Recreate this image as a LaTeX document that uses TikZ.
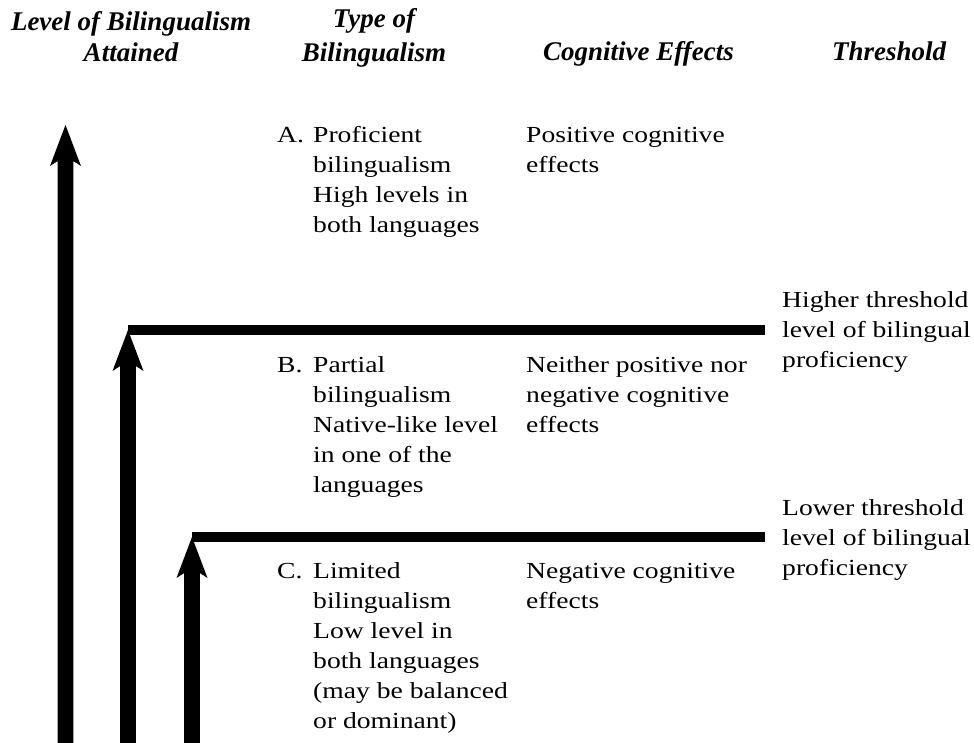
\documentclass[tikz,border=0pt]{standalone}
\usepackage{fontspec}
\setmainfont{Liberation Serif}
\newfontfamily\bodyfont[FakeStretch=1.2]{Liberation Serif}
\usetikzlibrary{calc}
\newcommand\fatarrow[2]{%
  \fill ($(#1)+(-7.8,0)$) -- ($(#2)+(-7.8,36)$) -- ($(#2)+(-15.5,41)$) -- (#2)
     -- ($(#2)+(15.5,41)$) -- ($(#2)+(7.8,36)$) -- ($(#1)+(7.8,0)$) -- cycle;}
\begin{document}
\begin{tikzpicture}[x=1pt,y=-1pt,
  head/.style={font=\fontsize{27}{31}\selectfont\bfseries\itshape, inner sep=0pt, align=center},
  body/.style={font=\bodyfont\fontsize{23}{30}\selectfont, inner sep=0pt, align=left, anchor=base west},
  hbar/.style={line width=10pt}]
\useasboundingbox (0,0) rectangle (974,743);
\clip (0,0) rectangle (974,743);

% headers (anchor = baseline of the last line)
\node[head, anchor=base] (hlevel) at (131,62) {Level of Bilingualism\\Attained};
\node[head, anchor=base] (htype) at (374,62) {Type of\\[3pt]Bilingualism};
\node[head, anchor=base west] (hcog) at (543,61) {Cognitive Effects};
\node[head, anchor=base west] (hthr) at (832,61) {Threshold};

% type of bilingualism (first lines at 143, 372, 578; anchors at last line)
\node[body] (la) at (277,143) {A.};
\node[body] (ta) at (313,233) {Proficient\\bilingualism\\High levels in\\both languages};
\node[body] (lb) at (277,372) {B.};
\node[body] (tb) at (313,492) {Partial\\bilingualism\\Native-like level\\in one of the\\languages};
\node[body] (lc) at (277,578) {C.};
\node[body] (tc) at (313,728) {Limited\\bilingualism\\Low level in\\both languages\\(may be balanced\\or dominant)};

% cognitive effects
\node[body] (ca) at (526,173) {Positive cognitive\\effects};
\node[body] (cb) at (526,432) {Neither positive nor\\negative cognitive\\effects};
\node[body] (cc) at (526,608) {Negative cognitive\\effects};

% thresholds
\node[body] (th1) at (782,367) {Higher threshold\\level of bilingual\\proficiency};
\node[body] (th2) at (782,575) {Lower threshold\\level of bilingual\\proficiency};

% arrows and threshold lines
\coordinate (a1b) at (65.5,760); \coordinate (a1t) at (65.5,125);
\coordinate (a2b) at (128,760);  \coordinate (a2t) at (128,330);
\coordinate (a3b) at (192,760);  \coordinate (a3t) at (192,537);
\coordinate (l1e) at (765,330);  \coordinate (l2e) at (765,537);

\draw[hbar] (a2t) -- (l1e);
\draw[hbar] (a3t) -- (l2e);
\fatarrow{a1b}{a1t}
\fatarrow{a2b}{a2t}
\fatarrow{a3b}{a3t}
\end{tikzpicture}
\end{document}
